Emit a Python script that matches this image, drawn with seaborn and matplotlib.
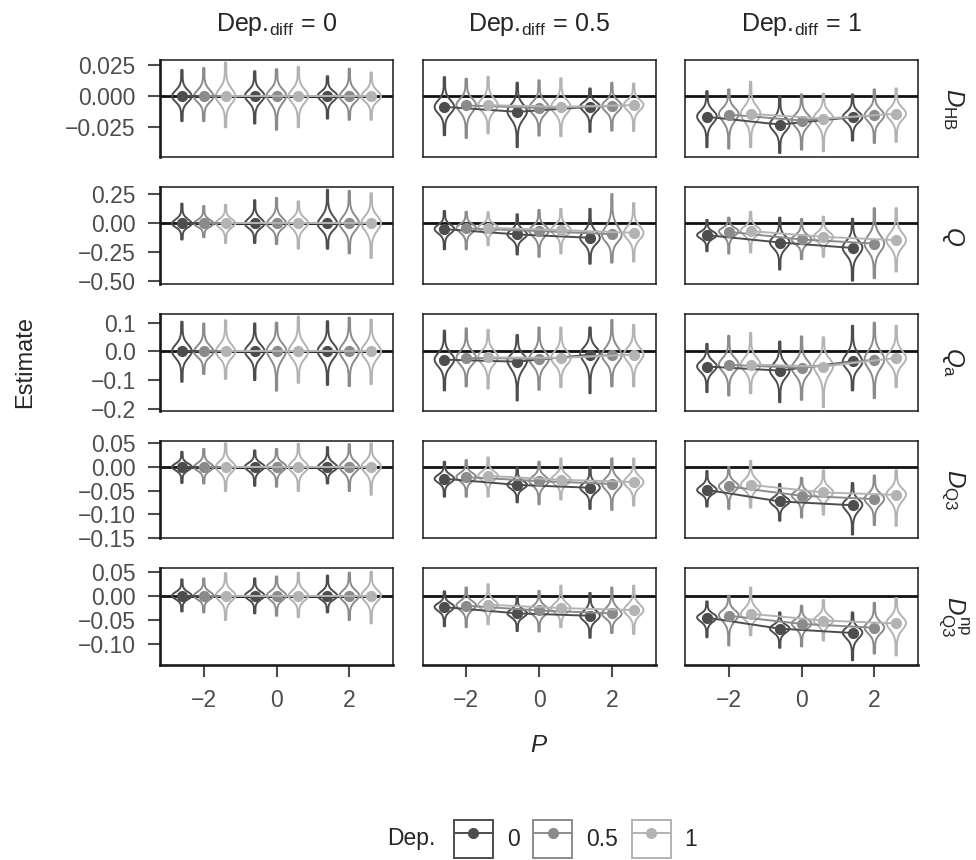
import pandas as pd
import seaborn as sns
import matplotlib.pyplot as plt
from matplotlib.lines import Line2D
from matplotlib.patches import Rectangle

# x categories, hue levels and facet levels
P_VALUES = [-2, 0, 2]
DEP_LEVELS = ["0", "0.5", "1"]
DIFF_LEVELS = ["0", "0.5", "1"]
ROW_LABELS = [r"$D_{\mathrm{HB}}$", r"$Q$", r"$Q_{\mathrm{a}}$",
              r"$D_{\mathrm{Q3}}$", r"$D^{\mathrm{np}}_{\mathrm{Q3}}$"]
GREYS = ["#4d4d4d", "#8b8b8b", "#b3b3b3"]

# one list per Dep.diff panel; order: P=-2 (Dep 0, 0.5, 1), P=0 (...), P=2 (...)
DHB_MEAN = [[0.0, 0.0, 0.0, 0.0, 0.0, 0.0, 0.0, 0.0, 0.0],
            [-0.0086, -0.0075, -0.0072, -0.0126, -0.0094, -0.0086, -0.0086, -0.008, -0.0072],
            [-0.0166, -0.0148, -0.0142, -0.0228, -0.0196, -0.018, -0.0169, -0.0155, -0.0142]]
DHB_LO = [[-0.020, -0.020, -0.025, -0.022, -0.027, -0.025, -0.018, -0.019, -0.019],
          [-0.0314, -0.0336, -0.030, -0.041, -0.0317, -0.0322, -0.0287, -0.0277, -0.028],
          [-0.041, -0.042, -0.041, -0.0456, -0.043, -0.0443, -0.0357, -0.0376, -0.0368]]
DHB_HI = [[0.021, 0.0226, 0.027, 0.020, 0.0216, 0.0235, 0.016, 0.022, 0.019],
          [0.0153, 0.014, 0.0156, 0.0108, 0.0127, 0.0143, 0.0062, 0.0108, 0.0102],
          [0.004, 0.0054, 0.0116, 0.0, 0.0014, 0.002, 0.0014, 0.0054, 0.0062]]

Q_MEAN = [[0.0, 0.0, 0.0, 0.0, 0.0, 0.0, 0.0, 0.0, 0.0],
          [-0.05, -0.044, -0.038, -0.096, -0.067, -0.059, -0.125, -0.094, -0.082],
          [-0.102, -0.073, -0.067, -0.166, -0.14, -0.117, -0.213, -0.175, -0.146]]
Q_LO = [[-0.14, -0.12, -0.17, -0.17, -0.18, -0.22, -0.22, -0.26, -0.30],
        [-0.225, -0.225, -0.19, -0.27, -0.29, -0.26, -0.35, -0.34, -0.33],
        [-0.242, -0.262, -0.253, -0.40, -0.31, -0.29, -0.496, -0.475, -0.417]]
Q_HI = [[0.17, 0.15, 0.16, 0.20, 0.22, 0.19, 0.29, 0.28, 0.26],
        [0.107, 0.10, 0.096, 0.078, 0.116, 0.125, 0.125, 0.253, 0.175],
        [0.029, 0.049, 0.10, 0.049, 0.038, 0.058, 0.04, 0.131, 0.131]]

QA_MEAN = [[0.0, 0.0, 0.0, 0.0, 0.0, 0.0, 0.0, 0.0, 0.0],
           [-0.029, -0.023, -0.021, -0.036, -0.026, -0.023, -0.0115, -0.0126, -0.0115],
           [-0.053, -0.047, -0.046, -0.067, -0.058, -0.053, -0.035, -0.029, -0.023]]
QA_LO = [[-0.106, -0.079, -0.096, -0.10, -0.137, -0.11, -0.117, -0.121, -0.114],
         [-0.136, -0.122, -0.13, -0.171, -0.134, -0.125, -0.146, -0.122, -0.122],
         [-0.142, -0.154, -0.146, -0.177, -0.169, -0.194, -0.136, -0.163, -0.125]]
QA_HI = [[0.103, 0.097, 0.108, 0.097, 0.10, 0.121, 0.105, 0.117, 0.11],
         [0.072, 0.08, 0.075, 0.057, 0.083, 0.083, 0.083, 0.109, 0.092],
         [0.026, 0.054, 0.064, 0.034, 0.052, 0.049, 0.089, 0.10, 0.089]]

DQ3_MEAN = [[0.0, 0.0, 0.0, 0.0, 0.0, 0.0, 0.0, 0.0, 0.0],
            [-0.025, -0.0215, -0.019, -0.038, -0.030, -0.027, -0.044, -0.036, -0.032],
            [-0.0486, -0.0414, -0.038, -0.073, -0.061, -0.054, -0.081, -0.068, -0.059]]
DQ3_LO = [[-0.034, -0.035, -0.051, -0.04, -0.042, -0.051, -0.035, -0.051, -0.059],
          [-0.063, -0.063, -0.063, -0.075, -0.079, -0.069, -0.089, -0.091, -0.082],
          [-0.084, -0.089, -0.086, -0.114, -0.107, -0.101, -0.143, -0.123, -0.125]]
DQ3_HI = [[0.032, 0.038, 0.05, 0.035, 0.038, 0.049, 0.042, 0.048, 0.05],
          [0.011, 0.0144, 0.020, -0.0014, 0.011, 0.018, -0.0014, 0.018, 0.018],
          [-0.0086, 0.0, 0.013, -0.036, -0.023, -0.007, -0.034, -0.018, -0.007]]

DNP_MEAN = [[0.0, 0.0, 0.0, 0.0, 0.0, 0.0, 0.0, 0.0, 0.0],
            [-0.024, -0.021, -0.019, -0.037, -0.031, -0.026, -0.042, -0.037, -0.030],
            [-0.046, -0.042, -0.038, -0.069, -0.059, -0.052, -0.078, -0.067, -0.058]]
DNP_LO = [[-0.033, -0.035, -0.051, -0.037, -0.042, -0.045, -0.035, -0.051, -0.058],
          [-0.064, -0.066, -0.06, -0.074, -0.075, -0.066, -0.088, -0.078, -0.080],
          [-0.087, -0.104, -0.083, -0.109, -0.106, -0.094, -0.135, -0.121, -0.125]]
DNP_HI = [[0.034, 0.036, 0.047, 0.036, 0.04, 0.048, 0.042, 0.048, 0.05],
          [0.009, 0.017, 0.024, -0.002, 0.010, 0.021, 0.0056, 0.017, 0.021],
          [-0.012, 0.0, 0.017, -0.035, -0.021, -0.009, -0.035, -0.015, -0.005]]

# relative spread of the simulated estimates between centre and tail end
VIOLIN_SHAPE = [0.0, 0.015, 0.03, 0.045, 0.06, 0.075, 0.09, 0.105, 0.12, 0.14, 0.16,
                0.18, 0.205, 0.23, 0.26, 0.30, 0.35, 0.43, 0.56, 0.78, 1.0]

Y_LIMITS = [(-0.049, 0.029), (-0.526, 0.314), (-0.208, 0.130), (-0.1505, 0.055), (-0.145, 0.058)]
Y_TICKS = [[-0.025, 0.0, 0.025], [-0.5, -0.25, 0.0, 0.25], [-0.2, -0.1, 0.0, 0.1],
           [-0.15, -0.10, -0.05, 0.0, 0.05], [-0.10, -0.05, 0.0, 0.05]]
Y_DECIMALS = [3, 2, 1, 2, 2]

measures = [(DHB_MEAN, DHB_LO, DHB_HI), (Q_MEAN, Q_LO, Q_HI), (QA_MEAN, QA_LO, QA_HI),
            (DQ3_MEAN, DQ3_LO, DQ3_HI), (DNP_MEAN, DNP_LO, DNP_HI)]

# long tables for seaborn
violin_rows = []
mean_rows = []
for m, (means, los, his) in enumerate(measures):
    for d, diff in enumerate(DIFF_LEVELS):
        for i in range(9):
            p = P_VALUES[i // 3]
            dep = DEP_LEVELS[i % 3]
            mu, lo, hi = means[d][i], los[d][i], his[d][i]
            mean_rows.append((m, diff, p, dep, mu))
            for s in VIOLIN_SHAPE:
                violin_rows.append((m, diff, p, dep, mu + s * (hi - mu)))
            for s in VIOLIN_SHAPE[1:]:
                violin_rows.append((m, diff, p, dep, mu - s * (mu - lo)))

cols = ["Measure", "Diff", "P", "Dep", "Estimate"]
violins = pd.DataFrame(violin_rows, columns=cols)
points = pd.DataFrame(mean_rows, columns=cols)

sns.set_style("white")
plt.rcParams["font.family"] = ["Liberation Sans", "DejaVu Sans"]
plt.rcParams["mathtext.fontset"] = "custom"
plt.rcParams["mathtext.rm"] = "Liberation Sans"
plt.rcParams["mathtext.it"] = "Liberation Sans:italic"
plt.rcParams["mathtext.bf"] = "Liberation Sans:bold"

FS = 16.5
TICK_COL = "#4d4d4d"

fig, axes = plt.subplots(5, 3, figsize=(9.76, 8.6), dpi=100, sharex=True)
fig.subplots_adjust(left=0.164, right=0.9406, top=0.9302, bottom=0.2267,
                    wspace=0.127, hspace=0.307)

for r in range(5):
    for c, diff in enumerate(DIFF_LEVELS):
        ax = axes[r, c]
        vsub = violins[(violins["Measure"] == r) & (violins["Diff"] == diff)]
        psub = points[(points["Measure"] == r) & (points["Diff"] == diff)]
        ax.axhline(0, color="#111111", lw=2.0, zorder=0.5)
        sns.violinplot(data=vsub, x="P", y="Estimate", hue="Dep", hue_order=DEP_LEVELS,
                       palette=GREYS, saturation=1, native_scale=True, dodge=True,
                       width=0.9, gap=0.1, fill=False, inner=None, cut=0,
                       density_norm="width", bw_adjust=0.7, linewidth=1.4,
                       legend=False, ax=ax)
        sns.pointplot(data=psub, x="P", y="Estimate", hue="Dep", hue_order=DEP_LEVELS,
                      palette=GREYS, native_scale=True, dodge=0.6, errorbar=None,
                      markers="o", markersize=7, linewidth=1.4, legend=False, ax=ax)
        ax.set_xlim(-3.2, 3.2)
        ax.set_ylim(*Y_LIMITS[r])
        ax.set_xlabel("")
        ax.set_ylabel("")
        for side in ["top", "right", "bottom", "left"]:
            ax.spines[side].set_visible(True)
            ax.spines[side].set_color("#1a1a1a")
            ax.spines[side].set_linewidth(1.1)
        ax.set_yticks(Y_TICKS[r])
        ax.set_yticklabels([f"{v:.{Y_DECIMALS[r]}f}".replace("-", "\u2212") for v in Y_TICKS[r]])
        ax.set_xticks(P_VALUES)
        ax.set_xticklabels(["\u22122", "0", "2"])
        ax.tick_params(axis="both", left=True, bottom=True, length=8.5, width=1.5,
                       color=TICK_COL, labelsize=FS, labelcolor=TICK_COL, pad=9)
        if c == 0:
            ax.spines["left"].set_linewidth(1.9)
        else:
            ax.tick_params(axis="y", left=False, labelleft=False)
        if r == 4:
            ax.spines["bottom"].set_linewidth(1.9)
        else:
            ax.tick_params(axis="x", bottom=False, labelbottom=False)
        if r == 0:
            ax.set_title("Dep.$_{\\mathrm{diff}}\\,=\\,$" + diff, fontsize=FS + 1.5, pad=21)
        if c == 2:
            ax.text(1.15, 0.5, ROW_LABELS[r], transform=ax.transAxes, rotation=-90,
                    ha="center", va="center", fontsize=FS + 1)

fig.text(25 / 976, 1 - 362 / 860, "Estimate", rotation=90, ha="center", va="center", fontsize=FS + 0.5)
fig.text(539 / 976, 1 - 746 / 860, "$P$", ha="center", va="center", fontsize=FS + 1)

# legend
handles = [(Rectangle((0, 0), 1, 1, fill=False, edgecolor=g, lw=1.4),
            Line2D([], [], color=g, marker="o", markersize=7, lw=1.4)) for g in GREYS]
fig.text(387 / 976, 1 - 839 / 860, "Dep.", ha="left", va="center", fontsize=FS)
fig.legend(handles, DEP_LEVELS, loc="center left", bbox_to_anchor=(454 / 976, 1 - 839 / 860),
           ncol=3, frameon=False, fontsize=FS, handlelength=1.7, handleheight=2.2,
           handletextpad=0.6, columnspacing=0.6, borderpad=0, borderaxespad=0)

fig.savefig("out.png", dpi=100)
